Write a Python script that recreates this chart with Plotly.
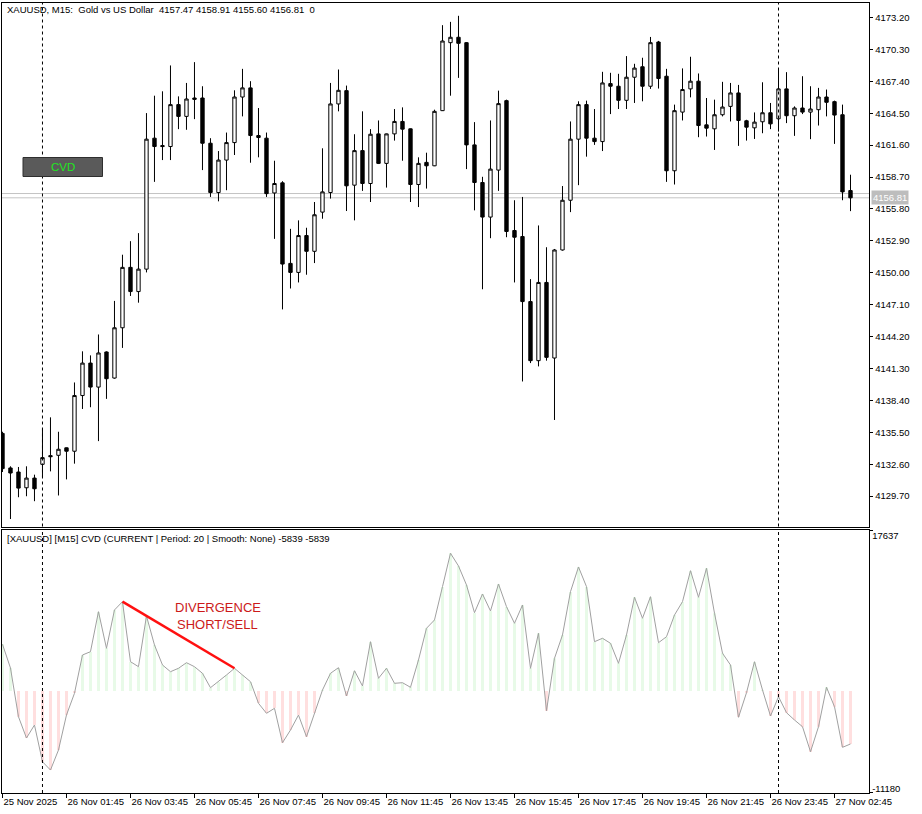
import plotly.graph_objects as go

# ---------------- data ----------------
symbol = "XAUUSD"
timeframe = "M15"
description = "Gold vs US Dollar"

opens = [4135.40, 4132.26, 4131.89, 4130.46, 4131.34, 4132.59, 4133.38, 4133.41, 4134.09, 4133.78,
         4138.84, 4141.79, 4139.61, 4142.80, 4140.43, 4145.00, 4150.49, 4148.29, 4150.33, 4162.23,
         4161.56, 4161.47, 4165.28, 4164.21, 4165.88, 4165.88, 4161.77, 4157.29, 4160.24, 4161.83,
         4165.97, 4166.80, 4162.47, 4162.23, 4157.25, 4158.17, 4150.85, 4150.03, 4153.38, 4151.95,
         4155.51, 4157.29, 4165.34, 4166.55, 4157.96, 4161.10, 4158.11, 4162.62, 4159.94, 4162.62,
         4163.75, 4163.08, 4158.02, 4160.03, 4159.72, 4164.73, 4170.91, 4171.40, 4170.91, 4161.62,
         4158.20, 4155.06, 4159.33, 4165.64, 4153.84, 4153.29, 4147.38, 4142.01, 4149.12, 4142.25,
         4152.07, 4156.59, 4162.14, 4165.28, 4162.23, 4161.92, 4167.19, 4166.95, 4165.67, 4167.77,
         4168.72, 4166.95, 4170.97, 4167.86, 4159.27, 4164.60, 4166.71, 4167.41, 4163.44, 4163.08,
         4164.36, 4165.12, 4166.34, 4163.81, 4163.17, 4163.72, 4164.54, 4163.99, 4166.71, 4164.27,
         4164.97, 4164.60, 4164.82, 4165.97, 4165.55, 4164.36, 4157.47]

highs = [4135.55, 4132.41, 4132.35, 4132.41, 4131.65, 4135.85, 4136.86, 4135.55, 4134.12, 4140.03,
         4142.86, 4142.49, 4144.39, 4142.86, 4147.44, 4151.64, 4152.87, 4153.60, 4164.51, 4166.09,
         4166.49, 4168.84, 4166.03, 4167.25, 4169.14, 4166.95, 4162.23, 4161.06, 4162.74, 4166.58,
         4168.53, 4167.41, 4164.97, 4162.74, 4160.18, 4158.32, 4153.99, 4154.76, 4154.09, 4156.43,
         4161.31, 4167.25, 4168.47, 4167.01, 4162.59, 4164.67, 4163.05, 4163.84, 4162.65, 4164.88,
         4165.03, 4163.11, 4160.49, 4160.91, 4164.82, 4172.50, 4172.80, 4173.35, 4170.97, 4163.69,
         4158.72, 4163.84, 4166.55, 4165.73, 4156.59, 4156.89, 4149.42, 4154.30, 4152.32, 4152.16,
         4157.88, 4163.75, 4165.58, 4165.64, 4164.88, 4168.26, 4168.17, 4168.08, 4169.69, 4168.99,
         4169.54, 4171.43, 4171.07, 4168.53, 4165.28, 4168.57, 4169.63, 4168.11, 4165.88, 4165.73,
         4167.35, 4167.25, 4167.07, 4163.90, 4164.57, 4167.31, 4165.43, 4168.53, 4168.23, 4165.12,
         4167.86, 4166.95, 4166.80, 4166.65, 4165.64, 4165.28, 4158.91]

lows = [4131.89, 4127.62, 4129.60, 4129.69, 4129.24, 4131.43, 4131.95, 4129.76, 4131.22, 4132.65,
        4137.62, 4137.78, 4134.70, 4138.54, 4140.37, 4143.17, 4147.89, 4147.28, 4150.03, 4158.26,
        4160.24, 4160.24, 4163.05, 4162.99, 4163.96, 4159.33, 4156.89, 4156.49, 4157.50, 4160.70,
        4164.21, 4160.00, 4160.49, 4156.89, 4153.08, 4146.67, 4148.57, 4149.12, 4149.82, 4150.88,
        4154.91, 4156.74, 4164.67, 4155.61, 4154.76, 4157.44, 4156.43, 4159.88, 4157.74, 4162.01,
        4160.18, 4156.43, 4155.97, 4157.65, 4159.69, 4164.70, 4166.09, 4167.71, 4159.42, 4155.67,
        4148.50, 4153.14, 4157.44, 4153.23, 4149.12, 4140.12, 4141.79, 4141.49, 4142.01, 4136.62,
        4152.01, 4155.51, 4157.96, 4160.55, 4161.62, 4161.06, 4164.42, 4164.88, 4164.88, 4165.43,
        4165.58, 4166.71, 4166.74, 4158.26, 4158.02, 4163.84, 4165.94, 4162.32, 4162.38, 4161.16,
        4164.21, 4163.75, 4161.53, 4162.01, 4162.16, 4162.68, 4163.05, 4162.83, 4163.60, 4162.44,
        4164.42, 4162.14, 4163.38, 4164.21, 4161.71, 4156.59, 4155.60]

closes = [4132.20, 4131.80, 4130.43, 4131.34, 4130.37, 4133.20, 4133.29, 4133.96, 4133.78, 4138.84,
          4141.79, 4139.61, 4142.71, 4140.37, 4145.00, 4150.49, 4148.29, 4150.33, 4162.14, 4161.47,
          4161.47, 4165.28, 4164.21, 4165.79, 4165.76, 4161.77, 4157.29, 4160.24, 4161.83, 4165.97,
          4166.80, 4162.47, 4162.29, 4157.19, 4158.11, 4150.79, 4150.03, 4153.38, 4151.95, 4155.27,
          4157.35, 4165.34, 4166.58, 4157.90, 4161.10, 4158.11, 4162.59, 4159.94, 4162.62, 4163.75,
          4163.05, 4158.02, 4159.94, 4159.72, 4164.67, 4171.06, 4171.40, 4170.85, 4161.62, 4158.20,
          4155.06, 4159.42, 4165.37, 4153.75, 4153.23, 4147.38, 4142.01, 4149.12, 4142.31, 4152.07,
          4156.59, 4162.14, 4165.28, 4162.23, 4161.92, 4167.25, 4166.95, 4165.67, 4167.77, 4168.60,
          4166.95, 4170.91, 4167.65, 4159.27, 4164.73, 4166.65, 4167.41, 4163.38, 4163.14, 4164.36,
          4165.06, 4166.34, 4163.84, 4163.23, 4163.69, 4164.54, 4163.53, 4166.71, 4164.27, 4164.97,
          4164.60, 4164.88, 4165.97, 4165.49, 4164.33, 4157.35, 4156.81]

cvd = [5150, 2535, -2833, -5181, -3748, -7793, -8708, -6504, -2646, -254,
       3968, 4332, 8741, 4707, 8929, 9844, 3230, 2679, 8267, 5071,
       2866, 2127, 2502, 3120, 2679, 1951, 364, 1025, 1764, 2502,
       1764, 1025, -1356, -2458, -1907, -5699, -4299, -2650, -5038, -2458,
       110, 1951, 2568, -551, 2238, 551, 5434, 1400, 2502, 849,
       915, 408, 3417, 6911, 7826, 11497, 15179, 13779, 11684, 8631,
       10692, 8818, 11795, 9292, 7463, 9480, 2502, 6360, -2172, 3605,
       6173, 10946, 13669, 11497, 5434, 5809, 5258, 3053, 6173, 10329,
       8014, 10395, 5324, 5985, 8377, 9844, 13261, 10329, 13525, 8565,
       4156, 2866, -2899, -187, 3230, 110, -2756, -628, -2392, -3197,
       -3935, -6691, -3935, 408, -1731, -6206, -5839]

cvd_max = 17637
cvd_min = -11180
ask_price = 4157.20

price_ticks = [4173.20, 4170.30, 4167.40, 4164.50, 4161.60, 4158.70, 4155.80, 4152.90,
               4150.00, 4147.10, 4144.20, 4141.30, 4138.40, 4135.50, 4132.60, 4129.70]

time_label_bars = [0, 8, 16, 24, 32, 40, 48, 56, 64, 72, 80, 88, 96, 104]
time_labels = ["25 Nov 2025", "26 Nov 01:45", "26 Nov 03:45", "26 Nov 05:45", "26 Nov 07:45",
               "26 Nov 09:45", "26 Nov 11:45", "26 Nov 13:45", "26 Nov 15:45", "26 Nov 17:45",
               "26 Nov 19:45", "26 Nov 21:45", "26 Nov 23:45", "27 Nov 02:45"]

day_start_bars = [5, 97]
divergence_bars = [15, 29]
divergence_label = ["DIVERGENCE", "SHORT/SELL"]

# ---------------- layout helpers ----------------
W, H = 922, 814


def px(x):
    return x / W


def py(y):
    return 1 - y / H


FONT = "Liberation Sans, Arial, sans-serif"
bars = list(range(len(opens)))

main_dom = [py(526.5), py(2.5)]
cvd_dom = [py(793), py(530)]
x_dom = [px(2), px(869.3)]
x_range = [-0.06, 108.35]
price_range = [4126.94, 4174.56]
cvd_range = [-11240, 17742]

fig = go.Figure()

fig.add_trace(go.Candlestick(
    x=bars, open=opens, high=highs, low=lows, close=closes,
    increasing=dict(line=dict(color="black", width=1), fillcolor="white"),
    decreasing=dict(line=dict(color="black", width=1), fillcolor="black"),
    whiskerwidth=0, xaxis="x", yaxis="y", showlegend=False, hoverinfo="skip"))

hist_colors = ["#E8FAE8" if v >= 0 else "#FFDFDF" for v in cvd]
fig.add_trace(go.Bar(x=bars, y=cvd, marker=dict(color=hist_colors, line=dict(width=0)),
                     width=0.38, xaxis="x2", yaxis="y2", showlegend=False, hoverinfo="skip"))
fig.add_trace(go.Scatter(x=bars, y=cvd, mode="lines", line=dict(color="#A0A0A0", width=1),
                         xaxis="x2", yaxis="y2", showlegend=False, hoverinfo="skip"))
fig.add_trace(go.Scatter(x=divergence_bars, y=[cvd[b] for b in divergence_bars], mode="lines",
                         line=dict(color="#FF1010", width=2.5),
                         xaxis="x2", yaxis="y2", showlegend=False, hoverinfo="skip"))
# carrier trace for the lower-label axis of the indicator window
fig.add_trace(go.Scatter(x=[bars[0]], y=[cvd_min], mode="markers", marker=dict(opacity=0),
                         xaxis="x2", yaxis="y3", showlegend=False, hoverinfo="skip"))

axis_common = dict(showgrid=False, zeroline=False, showline=True, linecolor="black",
                   linewidth=1, mirror=True, automargin=False, tickangle=0,
                   tickfont=dict(family=FONT, size=9.5, color="black"))

shapes = []
for b in day_start_bars:
    for dom in (main_dom, cvd_dom):
        shapes.append(dict(type="line", xref="x", yref="paper", x0=b, x1=b, y0=dom[0], y1=dom[1],
                           line=dict(color="black", width=1, dash="3px,3px")))
for p in (ask_price, closes[-1]):
    shapes.append(dict(type="line", xref="paper", yref="y", x0=x_dom[0], x1=x_dom[1], y0=p, y1=p,
                       line=dict(color="#C4C4C4", width=1), layer="below"))
# CVD button
shapes.append(dict(type="rect", xref="paper", yref="paper", x0=px(23), x1=px(102.5),
                   y0=py(176.5), y1=py(157.5), fillcolor="#5A5A5A",
                   line=dict(color="#2E2E2E", width=1)))

header = (f"{symbol},\u00a0{timeframe}:\u00a0\u00a0{description}\u00a0\u00a0"
          f"{opens[-1]:.2f} {highs[-1]:.2f} {lows[-1]:.2f} {closes[-1]:.2f}\u00a0\u00a00")
cvd_header = (f"[{symbol}] [{timeframe}] CVD (CURRENT | Period: 20 | Smooth: None) "
              f"{cvd[-1]} {cvd[-1]}")

DIV_FONT = dict(family="Liberation Sans Narrow, Liberation Sans, Arial", size=13, color="#CC1A1A")

annotations = [
    dict(text=header, xref="paper", yref="paper", x=px(5), y=py(9), xanchor="left",
         yanchor="middle", showarrow=False, font=dict(family=FONT, size=9.5, color="black")),
    dict(text=cvd_header, xref="paper", yref="paper", x=px(5), y=py(538), xanchor="left",
         yanchor="middle", showarrow=False, font=dict(family=FONT, size=9.5, color="black")),
    dict(text=f"{closes[-1]:.2f}", xref="paper", yref="y", x=px(870.5), y=closes[-1],
         xanchor="left", yanchor="middle", showarrow=False, bgcolor="#BDBDBD", borderpad=1,
         font=dict(family=FONT, size=9.5, color="white")),
    dict(text="CVD", xref="paper", yref="paper", x=px(62.5), y=py(167), xanchor="center",
         yanchor="middle", showarrow=False, font=dict(family=FONT, size=11.5, color="#1FE61F")),
    dict(text=divergence_label[0], xref="paper", yref="paper", x=px(217.5), y=py(607),
         xanchor="center", yanchor="middle", showarrow=False, font=DIV_FONT),
    dict(text=divergence_label[1], xref="paper", yref="paper", x=px(217.5), y=py(624),
         xanchor="center", yanchor="middle", showarrow=False, font=DIV_FONT),
]

fig.update_layout(
    width=W, height=H, autosize=False,
    margin=dict(l=0, r=0, t=0, b=0, pad=0, autoexpand=False),
    paper_bgcolor="white", plot_bgcolor="white",
    showlegend=False, hovermode=False, boxgap=0.4, bargap=0,
    xaxis=dict(domain=x_dom, range=x_range, anchor="y", showticklabels=False, ticks="",
               rangeslider=dict(visible=False), **axis_common),
    yaxis=dict(domain=main_dom, range=price_range, anchor="x", side="right",
               tickvals=price_ticks, ticktext=[f"{t:.2f}" for t in price_ticks],
               ticks="outside", ticklen=3, tickcolor="black", **axis_common),
    xaxis2=dict(domain=x_dom, range=x_range, anchor="y2", tickvals=time_label_bars,
                ticktext=time_labels, ticks="outside", ticklen=4, tickcolor="black",
                ticklabelposition="outside right", **axis_common),
    yaxis2=dict(domain=cvd_dom, range=cvd_range, anchor="x2", side="right",
                tickvals=[cvd_max], ticktext=[str(cvd_max)], ticks="outside", ticklen=3,
                tickcolor="black", ticklabelposition="outside bottom", ticklabelshift=-2,
                **axis_common),
    yaxis3=dict(overlaying="y2", range=cvd_range, anchor="x2", side="right",
                tickvals=[cvd_min], ticktext=[str(cvd_min)], ticks="outside", ticklen=3,
                tickcolor="black", ticklabelposition="outside top", ticklabelshift=3,
                showgrid=False, zeroline=False, showline=False, automargin=False,
                tickfont=dict(family=FONT, size=9.5, color="black")),
    shapes=shapes,
    annotations=annotations,
)

fig.write_html("out.html", config={"displayModeBar": False},
               post_script="document.body.style.margin='0px';document.body.style.overflow='hidden';")
